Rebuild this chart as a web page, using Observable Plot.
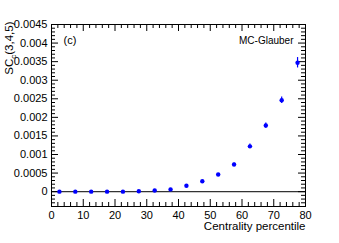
<!DOCTYPE html>
<html><head><meta charset="utf-8">
<script src="https://cdn.jsdelivr.net/npm/d3@7"></script>
<script src="https://cdn.jsdelivr.net/npm/@observablehq/plot@0.6"></script>
<style>body{margin:0;background:#fff;} #chart svg{display:block;}</style>
</head><body><div id="chart"></div>
<script>
const centrality = [2.5,7.5,12.5,17.5,22.5,27.5,32.5,37.5,42.5,47.5,52.5,57.5,62.5,67.5,72.5,77.5];
const sc345 = [0,0,0,0,0,0.00001,0.00003,0.00006,0.00016,0.00028,0.00046,0.00073,0.00122,0.00178,0.00246,0.00347];
const sc345Err = [0.000005,0.000005,0.000005,0.000005,0.000005,0.000005,0.00001,0.00001,0.00002,0.00002,0.00003,0.00004,0.00006,0.00007,0.00009,0.00014];
const xTicks = [0,10,20,30,40,50,60,70,80];
const xMinorTicks = [2,4,6,8,12,14,16,18,22,24,26,28,32,34,36,38,42,44,46,48,52,54,56,58,62,64,66,68,72,74,76,78];
const yTicks = [0,0.0005,0.001,0.0015,0.002,0.0025,0.003,0.0035,0.004,0.0045];
const yTickLabels = ["0","0.0005","0.001","0.0015","0.002","0.0025","0.003","0.0035","0.004","0.0045"];
const yMinorTicks = [-0.0004,-0.0003,-0.0002,-0.0001,0.0001,0.0002,0.0003,0.0004,0.0006,0.0007,0.0008,0.0009,0.0011,0.0012,0.0013,0.0014,0.0016,0.0017,0.0018,0.0019,0.0021,0.0022,0.0023,0.0024,0.0026,0.0027,0.0028,0.0029,0.0031,0.0032,0.0033,0.0034,0.0036,0.0037,0.0038,0.0039,0.0041,0.0042,0.0043,0.0044];
const xDomain = [0, 80];
const yDomain = [-0.0004, 0.0045];
const xLabel = "Centrality percentile";
const yLabel = "SCc(3,4,5)";
const panelLabel = "(c)";
const modelLabel = "MC-Glauber";

const data = centrality.map((c, i) => ({c, v: sc345[i], e: sc345Err[i]}));

const W = 339, H = 243;
const mL = 51, mR = 34, mT = 24, mB = 37;
const iW = W - mL - mR, iH = H - mT - mB;
const font = "Liberation Sans, Arial, Helvetica, sans-serif";

const chart = Plot.plot({
  width: W, height: H,
  marginLeft: mL, marginRight: mR, marginTop: mT, marginBottom: mB,
  style: {fontFamily: font, background: "#fff", color: "#000"},
  x: {domain: xDomain, axis: null},
  y: {domain: yDomain, axis: null},
  marks: [
    Plot.ruleY([0], {stroke: "#333", strokeWidth: 1.2}),
    // major ticks, inward
    Plot.ruleX(xTicks, {stroke: "#000", insetTop: iH - 7}),
    Plot.ruleX(xTicks, {stroke: "#000", insetBottom: iH - 7}),
    Plot.ruleX(xMinorTicks, {stroke: "#000", insetTop: iH - 4}),
    Plot.ruleX(xMinorTicks, {stroke: "#000", insetBottom: iH - 4}),
    Plot.ruleY(yTicks, {stroke: "#000", insetRight: iW - 7}),
    Plot.ruleY(yTicks, {stroke: "#000", insetLeft: iW - 7}),
    Plot.ruleY(yMinorTicks, {stroke: "#000", insetRight: iW - 4}),
    Plot.ruleY(yMinorTicks, {stroke: "#000", insetLeft: iW - 4}),
    Plot.frame({stroke: "#000", strokeWidth: 1}),
    Plot.axisX(xTicks, {anchor: "bottom", tickSize: 0, tickPadding: 5, fontSize: 11, label: null, tickFormat: d => String(d)}),
    Plot.axisY(yTicks, {anchor: "left", tickSize: 0, tickPadding: 4, fontSize: 11, label: null, tickFormat: (d, i) => yTickLabels[i]}),
    Plot.ruleX(data, {x: "c", y1: d => d.v - d.e, y2: d => d.v + d.e, stroke: "#0000ff", strokeWidth: 1.2}),
    Plot.dot(data, {x: "c", y: "v", r: 2.2, fill: "#0000ff", stroke: "none"}),
    Plot.text([panelLabel], {frameAnchor: "top-left", dx: 12, dy: 16, fontSize: 11, textAnchor: "start", lineAnchor: "middle"}),
    Plot.text([modelLabel], {frameAnchor: "top-right", dx: -12, dy: 16, fontSize: 10, textAnchor: "end", lineAnchor: "middle"}),
    Plot.text([xLabel], {frameAnchor: "bottom-right", dy: 20, fontSize: 11.5, textAnchor: "end", lineAnchor: "middle"}),
    Plot.text([yLabel], {frameAnchor: "top-left", dx: -42, dy: -3, rotate: -90, fontSize: 11.5, textAnchor: "end", lineAnchor: "middle"})
  ]
});
document.getElementById("chart").appendChild(chart);

// subscript for y label
d3.select(chart).selectAll("text").filter(function() { return this.textContent === yLabel; }).each(function() {
  const t = d3.select(this);
  t.text(null);
  t.append("tspan").text("SC");
  t.append("tspan").attr("font-size", "8px").attr("dy", "3").text("c");
  t.append("tspan").attr("dy", "-3").text("(3,4,5)");
});
</script>
</body></html>
